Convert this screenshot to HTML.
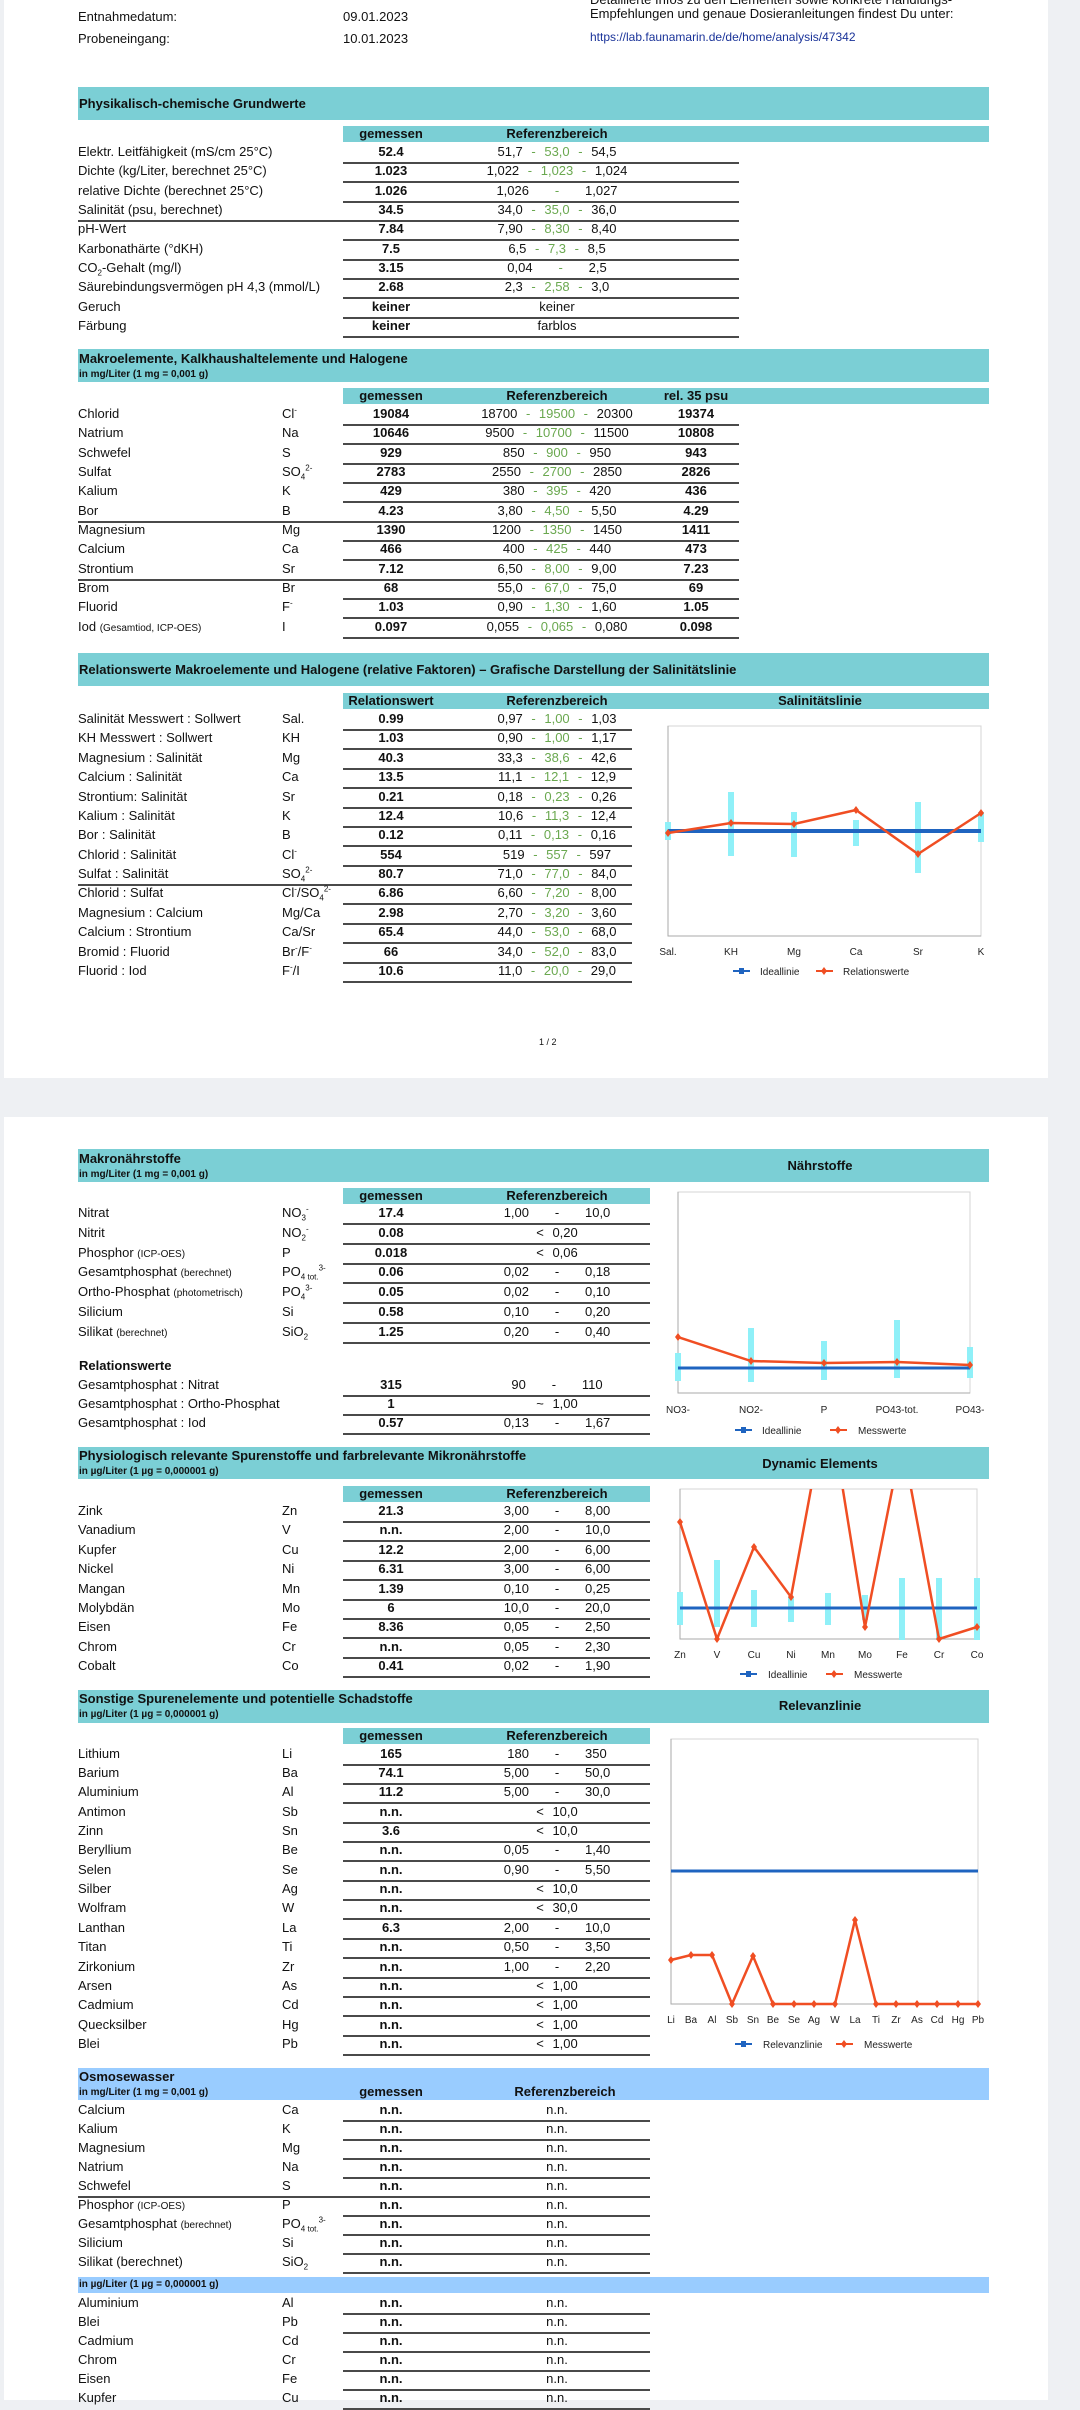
<!DOCTYPE html>
<html><head><meta charset="utf-8"><style>
*{margin:0;padding:0;box-sizing:border-box}
body{width:1080px;height:2400px;background:#eef0f3;font-family:"Liberation Sans",Arial,sans-serif;color:#111;position:relative;overflow:hidden}
.pg{position:absolute;left:4px;width:1044px;background:#fff}
.t{position:absolute;white-space:nowrap;font-size:13px;line-height:16px}
.band{position:absolute;left:78px;width:911px;background:#7bcfd5}
.sb{position:absolute;background:#7bcfd5;height:16px}
.h{position:absolute;white-space:nowrap;font-weight:bold;font-size:13px;line-height:16px}
.hs{position:absolute;white-space:nowrap;font-weight:bold;font-size:10px;line-height:12px}
.r{position:absolute;left:0;width:1080px;height:18px;line-height:18px;font-size:13px}
.r>span{position:absolute;top:0;white-space:nowrap}
.a{left:78px}.b{left:282px}
.g{left:343px;width:96px;text-align:center;font-weight:bold}
.c{left:457px;width:200px;text-align:center;word-spacing:5px}
.p{left:646px;width:100px;text-align:center;font-weight:bold}
.r::after{content:"";position:absolute;left:343px;top:19px;height:2px;width:var(--w,396px);background:#4a4a4a}
.r.L::after{left:78px;width:calc(var(--w,396px) + 265px)}
i{font-style:normal;color:#6aa84f}
small{font-size:10px;word-spacing:0}
sub,sup{font-size:8px;line-height:0}
</style></head><body>
<div class="pg" style="top:0;height:1078px"></div>
<div class="pg" style="top:1117px;height:1283px"></div>

<div class="t" style="left:590px;top:-8px">Detaillierte Infos zu den Elementen sowie konkrete Handlungs-</div>
<div class="t" style="left:78px;top:9px">Entnahmedatum:</div>
<div class="t" style="left:343px;top:9px">09.01.2023</div>
<div class="t" style="left:590px;top:6px">Empfehlungen und genaue Dosieranleitungen findest Du unter:</div>
<div class="t" style="left:78px;top:31px">Probeneingang:</div>
<div class="t" style="left:343px;top:31px">10.01.2023</div>
<div class="t" style="left:590px;top:29px;color:#1a3399;font-size:12px">https://lab.faunamarin.de/de/home/analysis/47342</div>

<div class="band" style="top:87px;height:33px"></div>
<div class="h" style="left:79px;top:96px">Physikalisch-chemische Grundwerte</div>
<div class="sb" style="left:343px;width:646px;top:126px"></div>
<div class="h" style="left:343px;width:96px;text-align:center;top:126px">gemessen</div>
<div class="h" style="left:457px;width:200px;text-align:center;top:126px">Referenzbereich</div>

<div class="r" style="top:143px"><span class="a">Elektr. Leitfähigkeit (mS/cm 25°C)</span><span class="g">52.4</span><span class="c">51,7 <i>- 53,0 -</i> 54,5</span></div>
<div class="r" style="top:162px"><span class="a">Dichte (kg/Liter, berechnet 25°C)</span><span class="g">1.023</span><span class="c">1,022 <i>- 1,023 -</i> 1,024</span></div>
<div class="r" style="top:182px"><span class="a">relative Dichte (berechnet 25°C)</span><span class="g">1.026</span><span class="c">1,026 &nbsp; <i>-</i> &nbsp; 1,027</span></div>
<div class="r L" style="top:201px"><span class="a">Salinität (psu, berechnet)</span><span class="g">34.5</span><span class="c">34,0 <i>- 35,0 -</i> 36,0</span></div>
<div class="r" style="top:220px"><span class="a">pH-Wert</span><span class="g">7.84</span><span class="c">7,90 <i>- 8,30 -</i> 8,40</span></div>
<div class="r" style="top:240px"><span class="a">Karbonathärte (°dKH)</span><span class="g">7.5</span><span class="c">6,5 <i>- 7,3 -</i> 8,5</span></div>
<div class="r" style="top:259px"><span class="a">CO<sub>2</sub>-Gehalt (mg/l)</span><span class="g">3.15</span><span class="c">0,04 &nbsp; <i>-</i> &nbsp; 2,5</span></div>
<div class="r" style="top:278px"><span class="a">Säurebindungsvermögen pH 4,3 (mmol/L)</span><span class="g">2.68</span><span class="c">2,3 <i>- 2,58 -</i> 3,0</span></div>
<div class="r" style="top:298px"><span class="a">Geruch</span><span class="g">keiner</span><span class="c">keiner</span></div>
<div class="r" style="top:317px"><span class="a">Färbung</span><span class="g">keiner</span><span class="c">farblos</span></div>

<div class="band" style="top:349px;height:33px"></div>
<div class="h" style="left:79px;top:351px">Makroelemente, Kalkhaushaltelemente und Halogene</div>
<div class="hs" style="left:79px;top:369px">in mg/Liter (1 mg = 0,001 g)</div>
<div class="sb" style="left:343px;width:646px;top:388px"></div>
<div class="h" style="left:343px;width:96px;text-align:center;top:388px">gemessen</div>
<div class="h" style="left:457px;width:200px;text-align:center;top:388px">Referenzbereich</div>
<div class="h" style="left:646px;width:100px;text-align:center;top:388px">rel. 35 psu</div>

<div class="r" style="top:405px"><span class="a">Chlorid</span><span class="b">Cl<sup>-</sup></span><span class="g">19084</span><span class="c">18700 <i>- 19500 -</i> 20300</span><span class="p">19374</span></div>
<div class="r" style="top:424px"><span class="a">Natrium</span><span class="b">Na</span><span class="g">10646</span><span class="c">9500 <i>- 10700 -</i> 11500</span><span class="p">10808</span></div>
<div class="r" style="top:444px"><span class="a">Schwefel</span><span class="b">S</span><span class="g">929</span><span class="c">850 <i>- 900 -</i> 950</span><span class="p">943</span></div>
<div class="r" style="top:463px"><span class="a">Sulfat</span><span class="b">SO<sub>4</sub><sup>2-</sup></span><span class="g">2783</span><span class="c">2550 <i>- 2700 -</i> 2850</span><span class="p">2826</span></div>
<div class="r" style="top:482px"><span class="a">Kalium</span><span class="b">K</span><span class="g">429</span><span class="c">380 <i>- 395 -</i> 420</span><span class="p">436</span></div>
<div class="r L" style="top:502px"><span class="a">Bor</span><span class="b">B</span><span class="g">4.23</span><span class="c">3,80 <i>- 4,50 -</i> 5,50</span><span class="p">4.29</span></div>
<div class="r" style="top:521px"><span class="a">Magnesium</span><span class="b">Mg</span><span class="g">1390</span><span class="c">1200 <i>- 1350 -</i> 1450</span><span class="p">1411</span></div>
<div class="r" style="top:540px"><span class="a">Calcium</span><span class="b">Ca</span><span class="g">466</span><span class="c">400 <i>- 425 -</i> 440</span><span class="p">473</span></div>
<div class="r L" style="top:560px"><span class="a">Strontium</span><span class="b">Sr</span><span class="g">7.12</span><span class="c">6,50 <i>- 8,00 -</i> 9,00</span><span class="p">7.23</span></div>
<div class="r" style="top:579px"><span class="a">Brom</span><span class="b">Br</span><span class="g">68</span><span class="c">55,0 <i>- 67,0 -</i> 75,0</span><span class="p">69</span></div>
<div class="r" style="top:598px"><span class="a">Fluorid</span><span class="b">F<sup>-</sup></span><span class="g">1.03</span><span class="c">0,90 <i>- 1,30 -</i> 1,60</span><span class="p">1.05</span></div>
<div class="r" style="top:618px"><span class="a">Iod <small>(Gesamtiod, ICP-OES)</small></span><span class="b">I</span><span class="g">0.097</span><span class="c">0,055 <i>- 0,065 -</i> 0,080</span><span class="p">0.098</span></div>

<div class="band" style="top:653px;height:33px"></div>
<div class="h" style="left:79px;top:662px">Relationswerte Makroelemente und Halogene (relative Faktoren) – Grafische Darstellung der Salinitätslinie</div>
<div class="sb" style="left:343px;width:646px;top:693px"></div>
<div class="h" style="left:343px;width:96px;text-align:center;top:693px">Relationswert</div>
<div class="h" style="left:457px;width:200px;text-align:center;top:693px">Referenzbereich</div>
<div class="h" style="left:720px;width:200px;text-align:center;top:693px">Salinitätslinie</div>

<div style="--w:289px">
<div class="r" style="top:710px"><span class="a">Salinität Messwert : Sollwert</span><span class="b">Sal.</span><span class="g">0.99</span><span class="c">0,97 <i>- 1,00 -</i> 1,03</span></div>
<div class="r" style="top:729px"><span class="a">KH Messwert : Sollwert</span><span class="b">KH</span><span class="g">1.03</span><span class="c">0,90 <i>- 1,00 -</i> 1,17</span></div>
<div class="r" style="top:749px"><span class="a">Magnesium : Salinität</span><span class="b">Mg</span><span class="g">40.3</span><span class="c">33,3 <i>- 38,6 -</i> 42,6</span></div>
<div class="r" style="top:768px"><span class="a">Calcium : Salinität</span><span class="b">Ca</span><span class="g">13.5</span><span class="c">11,1 <i>- 12,1 -</i> 12,9</span></div>
<div class="r" style="top:788px"><span class="a">Strontium: Salinität</span><span class="b">Sr</span><span class="g">0.21</span><span class="c">0,18 <i>- 0,23 -</i> 0,26</span></div>
<div class="r" style="top:807px"><span class="a">Kalium : Salinität</span><span class="b">K</span><span class="g">12.4</span><span class="c">10,6 <i>- 11,3 -</i> 12,4</span></div>
<div class="r" style="top:826px"><span class="a">Bor : Salinität</span><span class="b">B</span><span class="g">0.12</span><span class="c">0,11 <i>- 0,13 -</i> 0,16</span></div>
<div class="r" style="top:846px"><span class="a">Chlorid : Salinität</span><span class="b">Cl<sup>-</sup></span><span class="g">554</span><span class="c">519 <i>- 557 -</i> 597</span></div>
<div class="r L" style="top:865px"><span class="a">Sulfat : Salinität</span><span class="b">SO<sub>4</sub><sup>2-</sup></span><span class="g">80.7</span><span class="c">71,0 <i>- 77,0 -</i> 84,0</span></div>
<div class="r" style="top:884px"><span class="a">Chlorid : Sulfat</span><span class="b">Cl<sup>-</sup>/SO<sub>4</sub><sup>2-</sup></span><span class="g">6.86</span><span class="c">6,60 <i>- 7,20 -</i> 8,00</span></div>
<div class="r" style="top:904px"><span class="a">Magnesium : Calcium</span><span class="b">Mg/Ca</span><span class="g">2.98</span><span class="c">2,70 <i>- 3,20 -</i> 3,60</span></div>
<div class="r" style="top:923px"><span class="a">Calcium : Strontium</span><span class="b">Ca/Sr</span><span class="g">65.4</span><span class="c">44,0 <i>- 53,0 -</i> 68,0</span></div>
<div class="r" style="top:943px"><span class="a">Bromid : Fluorid</span><span class="b">Br<sup>-</sup>/F<sup>-</sup></span><span class="g">66</span><span class="c">34,0 <i>- 52,0 -</i> 83,0</span></div>
<div class="r" style="top:962px"><span class="a">Fluorid : Iod</span><span class="b">F<sup>-</sup>/I</span><span class="g">10.6</span><span class="c">11,0 <i>- 20,0 -</i> 29,0</span></div>
</div>
<div class="t" style="left:539px;top:1034px;font-size:9px">1 / 2</div>

<div style="--w:307px">
<div class="band" style="top:1149px;height:33px"></div>
<div class="h" style="left:79px;top:1151px">Makronährstoffe</div>
<div class="hs" style="left:79px;top:1169px">in mg/Liter (1 mg = 0,001 g)</div>
<div class="h" style="left:720px;width:200px;text-align:center;top:1158px">Nährstoffe</div>
<div class="sb" style="left:343px;width:307px;top:1188px"></div>
<div class="h" style="left:343px;width:96px;text-align:center;top:1188px">gemessen</div>
<div class="h" style="left:457px;width:200px;text-align:center;top:1188px">Referenzbereich</div>

<div class="r" style="top:1204px"><span class="a">Nitrat</span><span class="b">NO<sub>3</sub><sup>-</sup></span><span class="g">17.4</span><span class="c">1,00 &nbsp; - &nbsp; 10,0</span></div>
<div class="r" style="top:1224px"><span class="a">Nitrit</span><span class="b">NO<sub>2</sub><sup>-</sup></span><span class="g">0.08</span><span class="c">&lt; 0,20</span></div>
<div class="r" style="top:1244px"><span class="a">Phosphor <small>(ICP-OES)</small></span><span class="b">P</span><span class="g">0.018</span><span class="c">&lt; 0,06</span></div>
<div class="r" style="top:1263px"><span class="a">Gesamtphosphat <small>(berechnet)</small></span><span class="b">PO<sub>4 tot.</sub><sup>3-</sup></span><span class="g">0.06</span><span class="c">0,02 &nbsp; - &nbsp; 0,18</span></div>
<div class="r" style="top:1283px"><span class="a">Ortho-Phosphat <small>(photometrisch)</small></span><span class="b">PO<sub>4</sub><sup>3-</sup></span><span class="g">0.05</span><span class="c">0,02 &nbsp; - &nbsp; 0,10</span></div>
<div class="r" style="top:1303px"><span class="a">Silicium</span><span class="b">Si</span><span class="g">0.58</span><span class="c">0,10 &nbsp; - &nbsp; 0,20</span></div>
<div class="r" style="top:1323px"><span class="a">Silikat <small>(berechnet)</small></span><span class="b">SiO<sub>2</sub></span><span class="g">1.25</span><span class="c">0,20 &nbsp; - &nbsp; 0,40</span></div>
<div class="h" style="left:79px;top:1358px">Relationswerte</div>
<div class="r" style="top:1376px"><span class="a">Gesamtphosphat : Nitrat</span><span class="g">315</span><span class="c">90 &nbsp; - &nbsp; 110</span></div>
<div class="r" style="top:1395px"><span class="a">Gesamtphosphat : Ortho-Phosphat</span><span class="g">1</span><span class="c">~ 1,00</span></div>
<div class="r" style="top:1414px"><span class="a">Gesamtphosphat : Iod</span><span class="g">0.57</span><span class="c">0,13 &nbsp; - &nbsp; 1,67</span></div>

<div class="band" style="top:1447px;height:32px"></div>
<div class="h" style="left:79px;top:1448px">Physiologisch relevante Spurenstoffe und farbrelevante Mikronährstoffe</div>
<div class="hs" style="left:79px;top:1466px">in µg/Liter (1 µg = 0,000001 g)</div>
<div class="h" style="left:720px;width:200px;text-align:center;top:1456px">Dynamic Elements</div>
<div class="sb" style="left:343px;width:307px;top:1486px"></div>
<div class="h" style="left:343px;width:96px;text-align:center;top:1486px">gemessen</div>
<div class="h" style="left:457px;width:200px;text-align:center;top:1486px">Referenzbereich</div>

<div class="r" style="top:1502px"><span class="a">Zink</span><span class="b">Zn</span><span class="g">21.3</span><span class="c">3,00 &nbsp; - &nbsp; 8,00</span></div>
<div class="r" style="top:1521px"><span class="a">Vanadium</span><span class="b">V</span><span class="g">n.n.</span><span class="c">2,00 &nbsp; - &nbsp; 10,0</span></div>
<div class="r" style="top:1541px"><span class="a">Kupfer</span><span class="b">Cu</span><span class="g">12.2</span><span class="c">2,00 &nbsp; - &nbsp; 6,00</span></div>
<div class="r" style="top:1560px"><span class="a">Nickel</span><span class="b">Ni</span><span class="g">6.31</span><span class="c">3,00 &nbsp; - &nbsp; 6,00</span></div>
<div class="r" style="top:1580px"><span class="a">Mangan</span><span class="b">Mn</span><span class="g">1.39</span><span class="c">0,10 &nbsp; - &nbsp; 0,25</span></div>
<div class="r" style="top:1599px"><span class="a">Molybdän</span><span class="b">Mo</span><span class="g">6</span><span class="c">10,0 &nbsp; - &nbsp; 20,0</span></div>
<div class="r" style="top:1618px"><span class="a">Eisen</span><span class="b">Fe</span><span class="g">8.36</span><span class="c">0,05 &nbsp; - &nbsp; 2,50</span></div>
<div class="r" style="top:1638px"><span class="a">Chrom</span><span class="b">Cr</span><span class="g">n.n.</span><span class="c">0,05 &nbsp; - &nbsp; 2,30</span></div>
<div class="r" style="top:1657px"><span class="a">Cobalt</span><span class="b">Co</span><span class="g">0.41</span><span class="c">0,02 &nbsp; - &nbsp; 1,90</span></div>

<div class="band" style="top:1690px;height:33px"></div>
<div class="h" style="left:79px;top:1691px">Sonstige Spurenelemente und potentielle Schadstoffe</div>
<div class="hs" style="left:79px;top:1709px">in µg/Liter (1 µg = 0,000001 g)</div>
<div class="h" style="left:720px;width:200px;text-align:center;top:1698px">Relevanzlinie</div>
<div class="sb" style="left:343px;width:307px;top:1728px"></div>
<div class="h" style="left:343px;width:96px;text-align:center;top:1728px">gemessen</div>
<div class="h" style="left:457px;width:200px;text-align:center;top:1728px">Referenzbereich</div>

<div class="r" style="top:1745px"><span class="a">Lithium</span><span class="b">Li</span><span class="g">165</span><span class="c">180 &nbsp; - &nbsp; 350</span></div>
<div class="r" style="top:1764px"><span class="a">Barium</span><span class="b">Ba</span><span class="g">74.1</span><span class="c">5,00 &nbsp; - &nbsp; 50,0</span></div>
<div class="r" style="top:1783px"><span class="a">Aluminium</span><span class="b">Al</span><span class="g">11.2</span><span class="c">5,00 &nbsp; - &nbsp; 30,0</span></div>
<div class="r" style="top:1803px"><span class="a">Antimon</span><span class="b">Sb</span><span class="g">n.n.</span><span class="c">&lt; 10,0</span></div>
<div class="r" style="top:1822px"><span class="a">Zinn</span><span class="b">Sn</span><span class="g">3.6</span><span class="c">&lt; 10,0</span></div>
<div class="r" style="top:1841px"><span class="a">Beryllium</span><span class="b">Be</span><span class="g">n.n.</span><span class="c">0,05 &nbsp; - &nbsp; 1,40</span></div>
<div class="r" style="top:1861px"><span class="a">Selen</span><span class="b">Se</span><span class="g">n.n.</span><span class="c">0,90 &nbsp; - &nbsp; 5,50</span></div>
<div class="r" style="top:1880px"><span class="a">Silber</span><span class="b">Ag</span><span class="g">n.n.</span><span class="c">&lt; 10,0</span></div>
<div class="r" style="top:1899px"><span class="a">Wolfram</span><span class="b">W</span><span class="g">n.n.</span><span class="c">&lt; 30,0</span></div>
<div class="r" style="top:1919px"><span class="a">Lanthan</span><span class="b">La</span><span class="g">6.3</span><span class="c">2,00 &nbsp; - &nbsp; 10,0</span></div>
<div class="r" style="top:1938px"><span class="a">Titan</span><span class="b">Ti</span><span class="g">n.n.</span><span class="c">0,50 &nbsp; - &nbsp; 3,50</span></div>
<div class="r" style="top:1958px"><span class="a">Zirkonium</span><span class="b">Zr</span><span class="g">n.n.</span><span class="c">1,00 &nbsp; - &nbsp; 2,20</span></div>
<div class="r" style="top:1977px"><span class="a">Arsen</span><span class="b">As</span><span class="g">n.n.</span><span class="c">&lt; 1,00</span></div>
<div class="r" style="top:1996px"><span class="a">Cadmium</span><span class="b">Cd</span><span class="g">n.n.</span><span class="c">&lt; 1,00</span></div>
<div class="r" style="top:2016px"><span class="a">Quecksilber</span><span class="b">Hg</span><span class="g">n.n.</span><span class="c">&lt; 1,00</span></div>
<div class="r" style="top:2035px"><span class="a">Blei</span><span class="b">Pb</span><span class="g">n.n.</span><span class="c">&lt; 1,00</span></div>

<div class="band" style="top:2068px;height:32px;background:#99ccff"></div>
<div class="h" style="left:79px;top:2069px">Osmosewasser</div>
<div class="hs" style="left:79px;top:2087px">in mg/Liter (1 mg = 0,001 g)</div>
<div class="h" style="left:343px;width:96px;text-align:center;top:2084px">gemessen</div>
<div class="h" style="left:465px;width:200px;text-align:center;top:2084px">Referenzbereich</div>
<div class="r" style="top:2101px"><span class="a">Calcium</span><span class="b">Ca</span><span class="g">n.n.</span><span class="c">n.n.</span></div>
<div class="r" style="top:2120px"><span class="a">Kalium</span><span class="b">K</span><span class="g">n.n.</span><span class="c">n.n.</span></div>
<div class="r" style="top:2139px"><span class="a">Magnesium</span><span class="b">Mg</span><span class="g">n.n.</span><span class="c">n.n.</span></div>
<div class="r" style="top:2158px"><span class="a">Natrium</span><span class="b">Na</span><span class="g">n.n.</span><span class="c">n.n.</span></div>
<div class="r L" style="top:2177px"><span class="a">Schwefel</span><span class="b">S</span><span class="g">n.n.</span><span class="c">n.n.</span></div>
<div class="r" style="top:2196px"><span class="a">Phosphor <small>(ICP-OES)</small></span><span class="b">P</span><span class="g">n.n.</span><span class="c">n.n.</span></div>
<div class="r" style="top:2215px"><span class="a">Gesamtphosphat <small>(berechnet)</small></span><span class="b">PO<sub>4 tot.</sub><sup>3-</sup></span><span class="g">n.n.</span><span class="c">n.n.</span></div>
<div class="r" style="top:2234px"><span class="a">Silicium</span><span class="b">Si</span><span class="g">n.n.</span><span class="c">n.n.</span></div>
<div class="r" style="top:2253px"><span class="a">Silikat (berechnet)</span><span class="b">SiO<sub>2</sub></span><span class="g">n.n.</span><span class="c">n.n.</span></div>
<div class="band" style="top:2277px;height:16px;background:#99ccff"></div>
<div class="hs" style="left:79px;top:2279px">in µg/Liter (1 µg = 0,000001 g)</div>
<div class="r" style="top:2294px"><span class="a">Aluminium</span><span class="b">Al</span><span class="g">n.n.</span><span class="c">n.n.</span></div>
<div class="r" style="top:2313px"><span class="a">Blei</span><span class="b">Pb</span><span class="g">n.n.</span><span class="c">n.n.</span></div>
<div class="r" style="top:2332px"><span class="a">Cadmium</span><span class="b">Cd</span><span class="g">n.n.</span><span class="c">n.n.</span></div>
<div class="r" style="top:2351px"><span class="a">Chrom</span><span class="b">Cr</span><span class="g">n.n.</span><span class="c">n.n.</span></div>
<div class="r" style="top:2370px"><span class="a">Eisen</span><span class="b">Fe</span><span class="g">n.n.</span><span class="c">n.n.</span></div>
<div class="r" style="top:2389px"><span class="a">Kupfer</span><span class="b">Cu</span><span class="g">n.n.</span><span class="c">n.n.</span></div>
</div>

<svg style="position:absolute;left:0;top:0" width="1080" height="2400" font-family="Liberation Sans, Arial, sans-serif" font-size="10" fill="#222">
<defs>
<clipPath id="cd"><rect x="678" y="1489" width="302" height="152"/></clipPath>
<g id="dia"><path d="M0,-4 L3,0 L0,4 L-3,0Z" fill="#f04e23"/></g>
</defs>
<rect x="668" y="726" width="313" height="210" fill="none" stroke="#d4d4d4"/>
<path d="M668,726V936H981" fill="none" stroke="#aaa"/>
<g stroke="#8ff0f8" stroke-width="6">
<line x1="668" y1="822" x2="668" y2="840"/><line x1="731" y1="792" x2="731" y2="856"/><line x1="794" y1="812" x2="794" y2="857"/><line x1="856" y1="820" x2="856" y2="846"/><line x1="918" y1="802" x2="918" y2="873"/><line x1="981" y1="812" x2="981" y2="842"/></g>
<line x1="668" y1="831" x2="981" y2="831" stroke="#1f64c0" stroke-width="4"/>
<polyline points="668,833 731,823 794,824 856,810 918,854 981,813" fill="none" stroke="#f04e23" stroke-width="2.5"/>
<use href="#dia" x="668" y="833"/><use href="#dia" x="731" y="823"/><use href="#dia" x="794" y="824"/><use href="#dia" x="856" y="810"/><use href="#dia" x="918" y="854"/><use href="#dia" x="981" y="813"/>
<g text-anchor="middle"><text x="668" y="955">Sal.</text><text x="731" y="955">KH</text><text x="794" y="955">Mg</text><text x="856" y="955">Ca</text><text x="918" y="955">Sr</text><text x="981" y="955">K</text></g>
<line x1="733" y1="971" x2="750" y2="971" stroke="#1f64c0" stroke-width="2"/><rect x="739" y="968" width="5" height="6" fill="#1f64c0"/><text x="760" y="975">Ideallinie</text>
<line x1="816" y1="971" x2="833" y2="971" stroke="#f04e23" stroke-width="2"/><use href="#dia" x="824" y="971"/><text x="843" y="975">Relationswerte</text>

<rect x="678" y="1192" width="292" height="201" fill="none" stroke="#d4d4d4"/>
<path d="M678,1192V1393H970" fill="none" stroke="#aaa"/>
<g stroke="#8ff0f8" stroke-width="6">
<line x1="678" y1="1353" x2="678" y2="1381"/><line x1="751" y1="1328" x2="751" y2="1382"/><line x1="824" y1="1341" x2="824" y2="1380"/><line x1="897" y1="1320" x2="897" y2="1378"/><line x1="970" y1="1347" x2="970" y2="1378"/></g>
<line x1="678" y1="1368" x2="970" y2="1368" stroke="#1f64c0" stroke-width="3"/>
<polyline points="678,1337 751,1361 824,1363 897,1362 970,1365" fill="none" stroke="#f04e23" stroke-width="2.5"/>
<use href="#dia" x="678" y="1337"/><use href="#dia" x="751" y="1361"/><use href="#dia" x="824" y="1363"/><use href="#dia" x="897" y="1362"/><use href="#dia" x="970" y="1365"/>
<g text-anchor="middle"><text x="678" y="1413">NO3-</text><text x="751" y="1413">NO2-</text><text x="824" y="1413">P</text><text x="897" y="1413">PO43-tot.</text><text x="970" y="1413">PO43-</text></g>
<line x1="735" y1="1430" x2="752" y2="1430" stroke="#1f64c0" stroke-width="2"/><rect x="741" y="1427" width="5" height="6" fill="#1f64c0"/><text x="762" y="1434">Ideallinie</text>
<line x1="830" y1="1430" x2="847" y2="1430" stroke="#f04e23" stroke-width="2"/><use href="#dia" x="838" y="1430"/><text x="858" y="1434">Messwerte</text>

<rect x="680" y="1489" width="297" height="150" fill="none" stroke="#d4d4d4"/>
<path d="M680,1489V1639H977" fill="none" stroke="#aaa"/>
<g stroke="#8ff0f8" stroke-width="6">
<line x1="680" y1="1592" x2="680" y2="1625"/><line x1="717" y1="1560" x2="717" y2="1627"/><line x1="754" y1="1590" x2="754" y2="1627"/><line x1="791" y1="1597" x2="791" y2="1622"/><line x1="828" y1="1593" x2="828" y2="1625"/><line x1="865" y1="1595" x2="865" y2="1620"/><line x1="902" y1="1578" x2="902" y2="1640"/><line x1="939" y1="1578" x2="939" y2="1640"/><line x1="977" y1="1578" x2="977" y2="1640"/></g>
<line x1="680" y1="1608" x2="977" y2="1608" stroke="#1f64c0" stroke-width="3"/>
<g clip-path="url(#cd)"><polyline points="680,1522 717,1639 754,1547 791,1597 828,1397 865,1627 902,1440 939,1639 977,1627" fill="none" stroke="#f04e23" stroke-width="2.5"/></g>
<use href="#dia" x="680" y="1522"/><use href="#dia" x="717" y="1639"/><use href="#dia" x="754" y="1547"/><use href="#dia" x="791" y="1597"/><use href="#dia" x="865" y="1627"/><use href="#dia" x="939" y="1639"/><use href="#dia" x="977" y="1627"/>
<g text-anchor="middle"><text x="680" y="1658">Zn</text><text x="717" y="1658">V</text><text x="754" y="1658">Cu</text><text x="791" y="1658">Ni</text><text x="828" y="1658">Mn</text><text x="865" y="1658">Mo</text><text x="902" y="1658">Fe</text><text x="939" y="1658">Cr</text><text x="977" y="1658">Co</text></g>
<line x1="740" y1="1674" x2="757" y2="1674" stroke="#1f64c0" stroke-width="2"/><rect x="746" y="1671" width="5" height="6" fill="#1f64c0"/><text x="768" y="1678">Ideallinie</text>
<line x1="826" y1="1674" x2="843" y2="1674" stroke="#f04e23" stroke-width="2"/><use href="#dia" x="834" y="1674"/><text x="854" y="1678">Messwerte</text>

<rect x="671" y="1739" width="307" height="265" fill="none" stroke="#d4d4d4"/>
<path d="M671,1739V2004H978" fill="none" stroke="#aaa"/>
<line x1="671" y1="1871" x2="978" y2="1871" stroke="#1f64c0" stroke-width="3"/>
<polyline points="671,1960 691,1955 712,1955 732,2004 753,1956 773,2004 794,2004 814,2004 835,2004 855,1920 876,2004 896,2004 917,2004 937,2004 958,2004 978,2004" fill="none" stroke="#f04e23" stroke-width="2.5"/>
<g><use href="#dia" x="671" y="1960"/><use href="#dia" x="691" y="1955"/><use href="#dia" x="712" y="1955"/><use href="#dia" x="732" y="2004"/><use href="#dia" x="753" y="1956"/><use href="#dia" x="773" y="2004"/><use href="#dia" x="794" y="2004"/><use href="#dia" x="814" y="2004"/><use href="#dia" x="835" y="2004"/><use href="#dia" x="855" y="1920"/><use href="#dia" x="876" y="2004"/><use href="#dia" x="896" y="2004"/><use href="#dia" x="917" y="2004"/><use href="#dia" x="937" y="2004"/><use href="#dia" x="958" y="2004"/><use href="#dia" x="978" y="2004"/></g>
<g text-anchor="middle"><text x="671" y="2023">Li</text><text x="691" y="2023">Ba</text><text x="712" y="2023">Al</text><text x="732" y="2023">Sb</text><text x="753" y="2023">Sn</text><text x="773" y="2023">Be</text><text x="794" y="2023">Se</text><text x="814" y="2023">Ag</text><text x="835" y="2023">W</text><text x="855" y="2023">La</text><text x="876" y="2023">Ti</text><text x="896" y="2023">Zr</text><text x="917" y="2023">As</text><text x="937" y="2023">Cd</text><text x="958" y="2023">Hg</text><text x="978" y="2023">Pb</text></g>
<line x1="735" y1="2044" x2="752" y2="2044" stroke="#1f64c0" stroke-width="2"/><rect x="741" y="2041" width="5" height="6" fill="#1f64c0"/><text x="763" y="2048">Relevanzlinie</text>
<line x1="836" y1="2044" x2="853" y2="2044" stroke="#f04e23" stroke-width="2"/><use href="#dia" x="844" y="2044"/><text x="864" y="2048">Messwerte</text>
</svg>
</body></html>
